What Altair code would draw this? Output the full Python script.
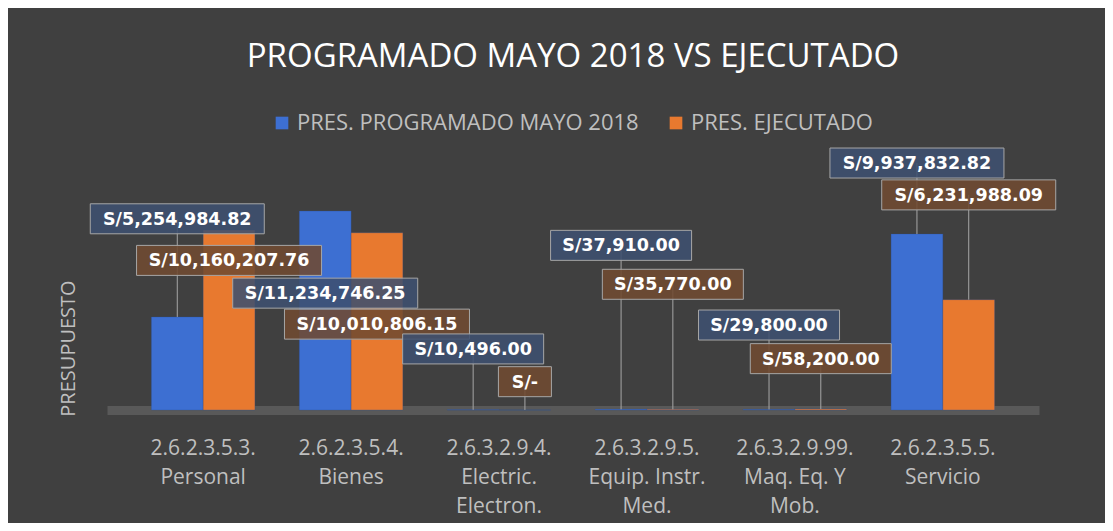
import altair as alt
import pandas as pd

categories = [
    "2.6.2.3.5.3.\nPersonal",
    "2.6.2.3.5.4.\nBienes",
    "2.6.3.2.9.4.\nElectric.\nElectron.",
    "2.6.3.2.9.5.\nEquip. Instr.\nMed.",
    "2.6.3.2.9.99.\nMaq. Eq. Y\nMob.",
    "2.6.2.3.5.5.\nServicio",
]
series = ["PRES. PROGRAMADO MAYO 2018", "PRES. EJECUTADO"]
programado = [5254984.82, 11234746.25, 10496.00, 37910.00, 29800.00, 9937832.82]
ejecutado = [10160207.76, 10010806.15, 0.0, 35770.00, 58200.00, 6231988.09]
# where each data label sits (value units), as placed in the original chart
label_pos_programado = [10.8e6, 6.6e6, 3.45e6, 9.3e6, 4.8e6, 13.95e6]
label_pos_ejecutado = [8.45e6, 4.85e6, 1.6e6, 7.1e6, 2.9e6, 12.15e6]

rows = []
for i, c in enumerate(categories):
    rows.append({"category": c, "series": series[0], "value": programado[i], "label_y": label_pos_programado[i]})
    rows.append({"category": c, "series": series[1], "value": ejecutado[i], "label_y": label_pos_ejecutado[i]})
df = pd.DataFrame(rows)

BG = "#404040"
TXT = "#bfbfbf"
FONT = "Open Sans"

yscale = alt.Scale(domain=[0, 15.25e6], nice=False, zero=True)


def y_axis():
    return alt.Axis(
        title="PRESUPUESTO",
        labels=False,
        ticks=False,
        grid=False,
        domain=False,
        titleFont=FONT,
        titleFontSize=20,
        titleFontWeight="normal",
        titleColor=TXT,
        titlePadding=29,
        titleY=208,
    )


base = alt.Chart(df).encode(
    x=alt.X(
        "category:N",
        sort=categories,
        scale=alt.Scale(paddingInner=0.3, paddingOuter=0.3),
        axis=alt.Axis(
            title=None,
            labelAngle=0,
            labelExpr="split(datum.label, '\\n')",
            labelFont=FONT,
            labelFontSize=21,
            labelColor=TXT,
            labelLineHeight=29,
            labelPadding=27,
            labelBaseline="top",
            ticks=False,
            domain=True,
            domainColor="#595959",
            domainWidth=9,
        ),
    ),
    xOffset=alt.XOffset("series:N", sort=series, scale=alt.Scale(paddingInner=0, paddingOuter=0)),
)

bars = base.mark_bar(stroke="#2a4f9a", strokeWidth=0.5, strokeOpacity=0.6).encode(
    y=alt.Y("value:Q", scale=yscale, axis=y_axis()),
    color=alt.Color(
        "series:N",
        sort=series,
        scale=alt.Scale(domain=series, range=["#3d6fd2", "#e8792f"]),
        legend=alt.Legend(
            title=None,
            orient="none",
            legendX=164,
            legendY=-28,
            direction="horizontal",
            symbolType="square",
            symbolSize=160,
            symbolStrokeWidth=0,
            labelFont=FONT,
            labelFontSize=22,
            labelColor=TXT,
            labelLimit=0,
            columnPadding=26,
            padding=0,
        ),
    ),
)

rules = base.mark_rule(color="#a6a6a6", strokeWidth=1).encode(
    y=alt.Y("label_y:Q", scale=yscale, axis=y_axis()),
    y2="value:Q",
).transform_filter("datum.label_y > datum.value")

boxes = base.mark_tick(thickness=30, stroke="#a6a6a6", strokeWidth=1, fillOpacity=0.88, opacity=1).encode(
    y=alt.Y("label_y:Q", scale=yscale, axis=y_axis()),
    size=alt.Size("boxw:Q", scale=None),
    fill=alt.Fill("series:N", sort=series, scale=alt.Scale(domain=series, range=["#3e506f", "#704a31"]), legend=None),
)

texts = base.mark_text(font="DejaVu Sans", fontWeight="bold", fontSize=17.5, color="white", baseline="middle", align="center", dy=1).encode(
    y=alt.Y("label_y:Q", scale=yscale, axis=y_axis()),
    text="label:N",
)

chart = alt.layer(bars, rules, boxes, texts).transform_calculate(
    label="datum.value == 0 ? 'S/-' : 'S/' + format(datum.value, ',.2f')"
).transform_calculate(
    boxw="length(datum.label) * 11 + 20"
).properties(
    width=932,
    height=270,
    title=alt.TitleParams(
        "PROGRAMADO MAYO 2018 VS EJECUTADO",
        font=FONT,
        fontSize=33,
        fontWeight="normal",
        color="white",
        anchor="middle",
        frame="group",
        offset=38,
    ),
    autosize=alt.AutoSizeParams(type="none"),
    padding={"left": 99, "top": 132, "right": 66, "bottom": 113},
).configure(
    background=BG,
).configure_view(
    stroke=None,
)

chart.save("out.html", embed_options={"renderer": "svg", "actions": False})
